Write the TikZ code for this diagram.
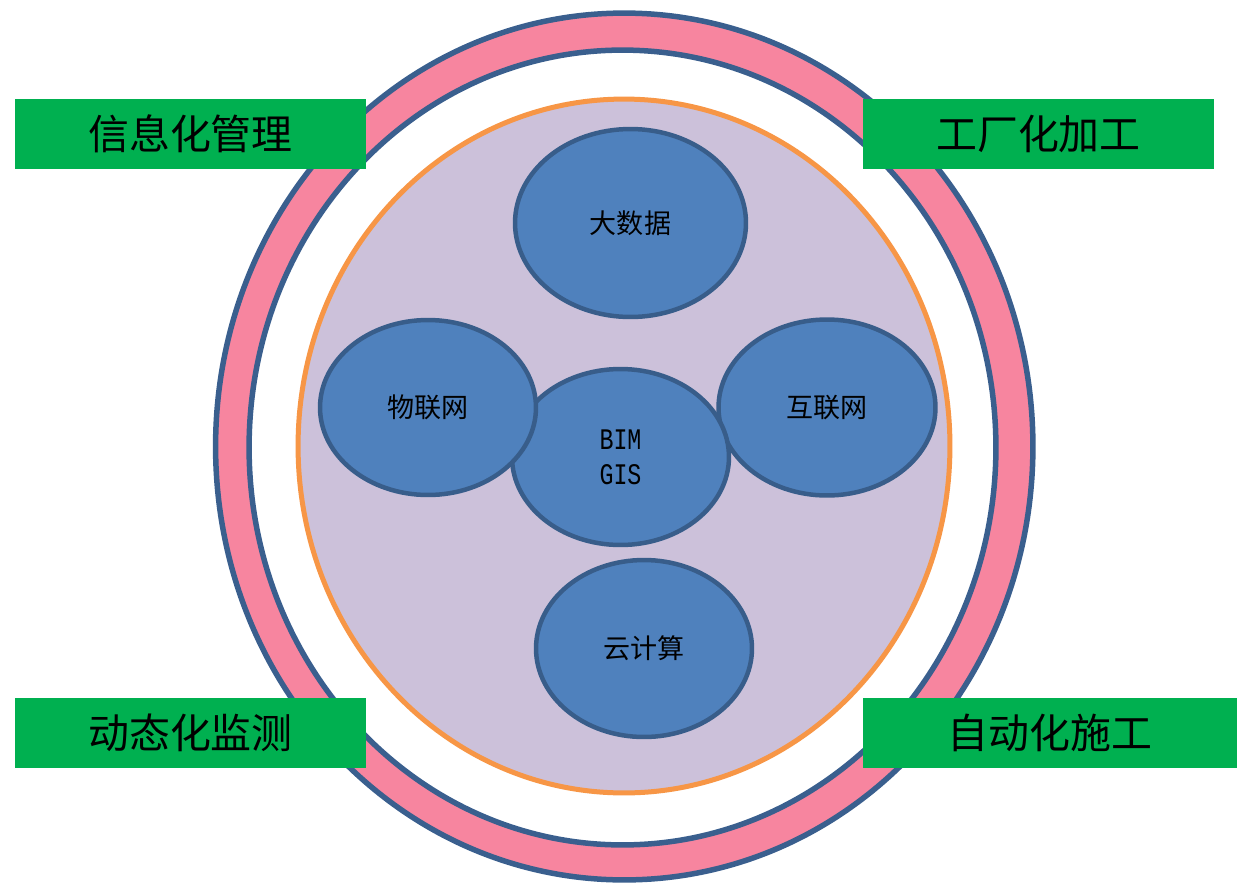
\documentclass[tikz,border=0pt]{standalone}
\usepackage{fontspec}
\usetikzlibrary{shapes.geometric}
\newfontfamily\cjk{Noto Sans CJK SC}
\newfontfamily\latinmono[FakeStretch=0.78]{Liberation Mono}

\definecolor{ringblue}{HTML}{3A5F8E}
\definecolor{ringpink}{HTML}{F7859F}
\definecolor{coreorange}{HTML}{F79646}
\definecolor{corelilac}{HTML}{CCC1DA}
\definecolor{techfill}{HTML}{4F81BD}
\definecolor{techline}{HTML}{385D8A}
\definecolor{tagfill}{HTML}{00B050}

\tikzset{
  tech/.style={ellipse, draw=techline, fill=techfill, line width=0.09cm,
    inner sep=0pt, font=\cjk\fontsize{15.4}{18}\selectfont, text=black},
  tag/.style={rectangle, fill=tagfill, inner sep=0pt, minimum height=1.4cm,
    font=\cjk\fontsize{23.3}{28}\selectfont, text=black},
}

\begin{document}
\begin{tikzpicture}[x=0.02cm, y=-0.02cm]
  \useasboundingbox (0,0) rectangle (1237,883);

  % outer ring
  \draw[ringblue, line width=0.11cm, fill=ringpink]
    (624.25,446.5) ellipse [x radius=8.175cm, y radius=8.67cm];
  \draw[ringblue, line width=0.11cm, fill=white]
    (622.5,447.5) ellipse [x radius=7.47cm, y radius=7.95cm];

  % core disc
  \draw[coreorange, line width=0.1cm, fill=corelilac]
    (624,446) ellipse [x radius=6.52cm, y radius=6.94cm];

  % technology ellipses
  \node[tech, minimum width=4.34cm, minimum height=3.52cm] (hlw) at (827,407.5) {互联网};
  \node[tech, minimum width=4.34cm, minimum height=3.52cm, align=center,
        font=\latinmono\fontsize{17}{19.9}\selectfont] (bim) at (620.5,457) {BIM\\GIS};
  \node[tech, minimum width=4.32cm, minimum height=3.50cm] (wlw) at (428,407.5) {物联网};
  \node[tech, minimum width=4.62cm, minimum height=3.76cm] (dsj) at (630.5,223) {大数据};
  \node[tech, minimum width=4.32cm, minimum height=3.54cm] (yjs) at (644,648.5) {云计算};

  % corner tags
  \node[tag, minimum width=7.02cm] (xxh) at (190.5,134) {信息化管理};
  \node[tag, minimum width=7.02cm] (gch) at (1038.5,134) {工厂化加工};
  \node[tag, minimum width=7.02cm] (dth) at (190.5,733) {动态化监测};
  \node[tag, minimum width=7.48cm] (zdh) at (1050,733) {自动化施工};
\end{tikzpicture}
\end{document}
